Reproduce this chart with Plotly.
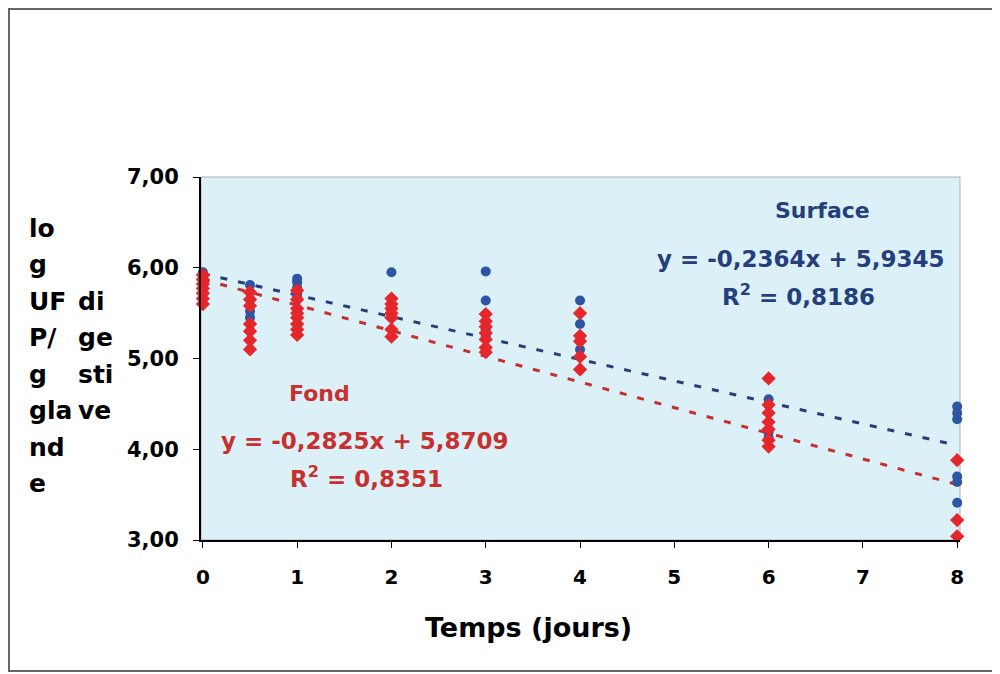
import plotly.graph_objects as go

# ---- data ----
surface_x = [0, 0, 0.5, 0.5, 0.5, 1, 1, 1, 1, 1, 2, 2, 3, 3, 3, 3, 4, 4, 4, 6, 6, 6, 6, 8, 8, 8, 8, 8, 8]
surface_y = [5.95, 5.88, 5.81, 5.52, 5.45, 5.88, 5.84, 5.78, 5.72, 5.68, 5.95, 5.48, 5.96, 5.64, 5.32, 5.24,
             5.64, 5.38, 5.10, 4.55, 4.49, 4.19, 4.13, 4.47, 4.40, 4.33, 3.70, 3.64, 3.41]
fond_x = [0, 0, 0, 0, 0, 0, 0,
          0.5, 0.5, 0.5, 0.5, 0.5, 0.5, 0.5,
          1, 1, 1, 1, 1, 1, 1, 1,
          2, 2, 2, 2, 2, 2, 2,
          3, 3, 3, 3, 3, 3, 3,
          4, 4, 4, 4, 4,
          6, 6, 6, 6, 6, 6, 6,
          8, 8, 8]
fond_y = [5.92, 5.87, 5.82, 5.77, 5.72, 5.66, 5.60,
          5.73, 5.65, 5.58, 5.38, 5.30, 5.20, 5.10,
          5.75, 5.65, 5.55, 5.50, 5.45, 5.38, 5.32, 5.26,
          5.66, 5.60, 5.55, 5.50, 5.45, 5.32, 5.24,
          5.49, 5.41, 5.35, 5.28, 5.21, 5.12, 5.07,
          5.50, 5.25, 5.19, 5.02, 4.88,
          4.78, 4.49, 4.40, 4.30, 4.22, 4.10, 4.03,
          3.88, 3.22, 3.04]
surface_fit = (-0.2364, 5.9345)
fond_fit = (-0.2825, 5.8709)
fit_x = [0, 8]
x_ticks = [0, 1, 2, 3, 4, 5, 6, 7, 8]
y_ticks = [3, 4, 5, 6, 7]

BLUE = "#2c55a4"
RED = "#e5262b"
BLUE_T = "#253f7c"
RED_T = "#c8302f"
FONT = "DejaVu Sans"

OFF = 8                       # page body margin
W, H = 1000 - OFF, 674 - OFF  # figure size
L, R, T, B = 201, 960, 177, 540   # plot area in page pixels
def px(x):
    return (x - L) / (R - L)
def py(y):
    return (B - y) / (B - T)

fig = go.Figure()
fig.add_trace(go.Scatter(x=fit_x, y=[surface_fit[0] * v + surface_fit[1] for v in fit_x], mode="lines",
                         line=dict(color=BLUE_T, width=3, dash="7px,11px"), hoverinfo="skip"))
fig.add_trace(go.Scatter(x=fit_x, y=[fond_fit[0] * v + fond_fit[1] for v in fit_x], mode="lines",
                         line=dict(color=RED_T, width=3, dash="7px,11px"), hoverinfo="skip"))
fig.add_trace(go.Scatter(x=surface_x, y=surface_y, mode="markers", cliponaxis=False,
                         marker=dict(symbol="circle", size=10, color=BLUE)))
fig.add_trace(go.Scatter(x=fond_x, y=fond_y, mode="markers", cliponaxis=False,
                         marker=dict(symbol="diamond", size=11, color=RED)))

ann = []
def txt(x, y, s, color="black", size=23, xanchor="center"):
    ann.append(dict(x=px(x), y=py(y), xref="paper", yref="paper", text=s, showarrow=False,
                    xanchor=xanchor, yanchor="middle", font=dict(family=FONT, size=size, color=color)))

txt(822, 211, "<b>Surface</b>", BLUE_T, 22)
txt(800, 259, "<b>y = -0,2364x + 5,9345</b>", BLUE_T)
txt(798, 295, "<b>R<sup>2</sup> = 0,8186</b>", BLUE_T)
txt(319, 393, "<b>Fond</b>", RED_T, 22)
txt(364, 441, "<b>y = -0,2825x + 5,8709</b>", RED_T)
txt(366, 477, "<b>R<sup>2</sup> = 0,8351</b>", RED_T)
txt(528, 627, "<b>Temps (jours)</b>", "black", 27)

col1 = ["lo", "g", "UF", "P/", "g", "gla", "nd", "e"]
col2 = ["", "", "di", "ge", "sti", "ve", "", ""]
for i, (a, b) in enumerate(zip(col1, col2)):
    yy = 228 + i * 36.5
    txt(27, yy, "<b>%s</b>" % a, "black", 25, "left")
    if b:
        txt(76, yy, "<b>%s</b>" % b, "black", 25, "left")

shapes = [
    dict(type="rect", xref="paper", yref="paper", x0=0, x1=1, y0=0, y1=1,
         line=dict(color="#b0b0b0", width=1), layer="below"),
    dict(type="rect", xref="paper", yref="paper", x0=px(9), x1=px(995), y0=py(671), y1=py(9),
         line=dict(color="#666666", width=2)),
]

fig.update_layout(
    width=W, height=H, autosize=False,
    margin=dict(l=L - OFF, r=W - (R - OFF), t=T - OFF, b=H - (B - OFF)),
    paper_bgcolor="white", plot_bgcolor="#dbf0f7",
    showlegend=False, hovermode=False,
    separators=",.",
    annotations=ann, shapes=shapes,
    font=dict(family=FONT, color="black"),
)
fig.update_xaxes(range=[-0.02, 8.03], tickvals=x_ticks, ticktext=["<b>%d</b>" % v for v in x_ticks],
                 showgrid=False, zeroline=False, showline=True, linecolor="black", linewidth=2,
                 ticks="outside", ticklen=6, tickcolor="black", tickwidth=1,
                 tickfont=dict(family=FONT, size=20, color="black"), ticklabelstandoff=12)
fig.update_yaxes(range=[3, 7], tickvals=y_ticks, ticktext=["<b>%s</b>" % ("%.2f" % v).replace(".", ",") for v in y_ticks],
                 showgrid=False, zeroline=False, showline=True, linecolor="black", linewidth=2,
                 ticks="outside", ticklen=6, tickcolor="black", tickwidth=1,
                 tickfont=dict(family=FONT, size=21, color="black"), ticklabelstandoff=10)

fig.write_html("out.html")
